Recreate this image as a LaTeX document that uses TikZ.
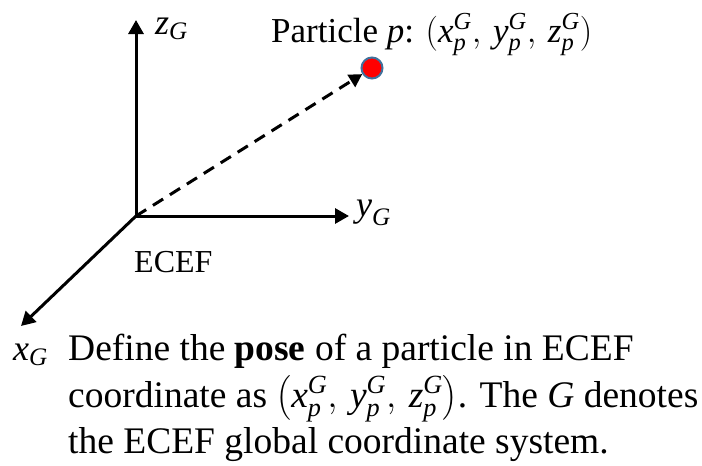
\RequirePackage{fix-cm}
\documentclass[tikz,border=0pt]{standalone}
\usepackage{amsmath}
\usepackage{fontspec}
\setmainfont{Liberation Serif}
\usetikzlibrary{arrows.meta}
\definecolor{ptedge}{HTML}{41719C}
\newcommand\iv[1]{\textit{#1}}
\newcommand\pc[1]{\iv{#1}_{\iv{p}}^{\iv{G}}}
\newcommand\ax[1]{$\iv{#1}_{\iv{G}}$}
\tikzset{
  axis/.style={line width=3pt,-{Triangle[length=14pt,width=15pt]}},
  dasharrow/.style={line width=3pt,dash pattern=on 12pt off 8pt,-{Triangle[length=13pt,width=14pt]}},
  lbl/.style={inner sep=0pt,anchor=base west},
  body/.style={lbl,font=\fontsize{37.5}{44}\selectfont},
}
\begin{document}
\begin{tikzpicture}[x=1pt,y=-1pt]
\useasboundingbox (0,0) rectangle (702,466);
\coordinate (O) at (136,216);
\coordinate (zt) at (136,20);
\coordinate (yt) at (349,216);
\coordinate (xt) at (21,326);
\node[circle,fill=red,draw=ptedge,line width=2pt,minimum size=21pt,inner sep=0pt] (P) at (372,68) {};
\draw[axis] (O) -- (zt);
\draw[axis] (O) -- (yt);
\draw[axis] (O) -- (xt);
\draw[dasharrow] (O) -- (P);
\node[lbl,font=\fontsize{36}{40}\selectfont] (zl) at (155,34) {\ax{z}};
\node[lbl,font=\fontsize{36}{40}\selectfont] (yl) at (356,216) {\ax{y}};
\node[lbl,font=\fontsize{36}{40}\selectfont] (xl) at (13,360) {\ax{x}};
\node[lbl,font=\fontsize{35}{40}\selectfont] (pl) at (271,42) {Particle \iv{p}: $(\pc{x},\,\pc{y},\,\pc{z})$};
\node[lbl,font=\fontsize{32}{36}\selectfont] (ecef) at (134,272) {ECEF};
\node[body] (t1) at (68,360) {Define the \textbf{pose} of a particle in ECEF};
\node[body] (t2) at (68,407) {coordinate as $\bigl(\pc{x},\,\pc{y},\,\pc{z}\bigr)$. The \iv{G} denotes};
\node[body] (t3) at (68,453) {the ECEF global coordinate system.};
\end{tikzpicture}
\end{document}
